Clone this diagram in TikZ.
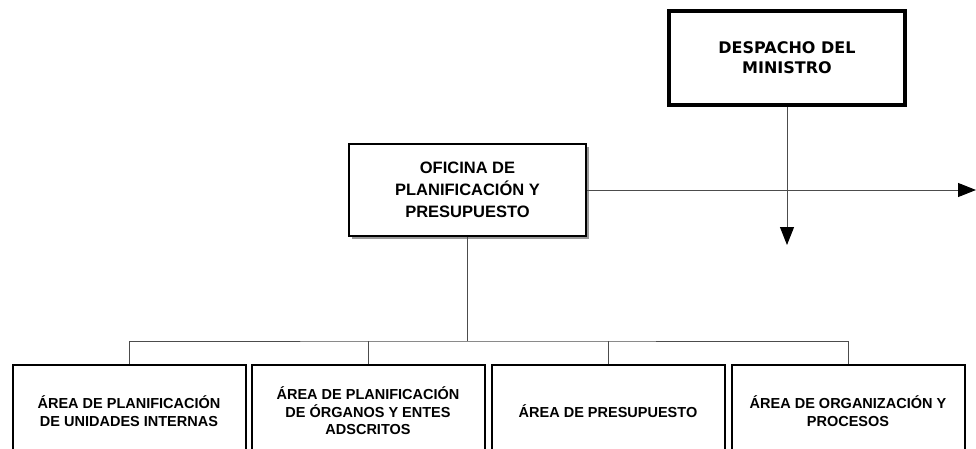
\documentclass[tikz,border=0pt]{standalone}
\usepackage{fontspec}
\setmainfont{Liberation Sans}
\newfontfamily\dejavu{DejaVu Sans}
\usetikzlibrary{arrows.meta,shadows}

\begin{document}
\begin{tikzpicture}[x=1pt,y=-1pt,
        jefe/.style={shape=rectangle,draw=black,line width=4pt,minimum width=236pt,minimum height=94pt,align=center,font=\dejavu\bfseries\fontsize{16}{20}\selectfont},
        unidad/.style={shape=rectangle,draw=black,fill=white,line width=2pt,minimum width=237pt,minimum height=92pt,align=center,font=\bfseries\fontsize{16.5}{22}\selectfont,drop shadow={shadow xshift=3pt,shadow yshift=-3pt,fill=black!40,opacity=1}},
        area/.style={shape=rectangle,draw=black,fill=white,line width=2pt,minimum width=233pt,minimum height=92pt,align=center,font=\bfseries\fontsize{14.5}{17.5}\selectfont,drop shadow={shadow xshift=1.5pt,shadow yshift=-1.5pt,fill=black!40,opacity=1}},
        conector/.style={draw=black!70,line width=1pt},
        flecha/.style={conector,-{Triangle[length=18pt,width=14pt,color=black]}}]
        \clip (0,0) rectangle (976,449);
        \node[jefe] (DM) at (787,58) {DESPACHO DEL\\MINISTRO};
        \node[unidad] (OPP) at (467.5,190) {OFICINA DE\\PLANIFICACIÓN Y\\PRESUPUESTO};
        \node[area] (A1) at (129,411) {ÁREA DE PLANIFICACIÓN\\DE UNIDADES INTERNAS};
        \node[area] (A2) at (368,411) {ÁREA DE PLANIFICACIÓN\\DE ÓRGANOS Y ENTES\\ADSCRITOS};
        \node[area] (A3) at (608,411) {ÁREA DE PRESUPUESTO};
        \node[area] (A4) at (848,411) {ÁREA DE ORGANIZACIÓN Y\\PROCESOS};
        \coordinate (fin) at (976,190);
        \coordinate (abajo) at (787,245);
        \coordinate (bus) at (467.5,341);
        \path [flecha] (OPP.east) -- (fin);
        \path [flecha] (DM.south) -- (abajo);
        \path [conector] (OPP.south) -- (bus);
        \path [conector] (A1.north) |- (bus) -| (A4.north);
        \path [conector] (A2.north) -- (A2.north |- bus);
        \path [conector] (A3.north) -- (A3.north |- bus);
    \end{tikzpicture}
\end{document}
